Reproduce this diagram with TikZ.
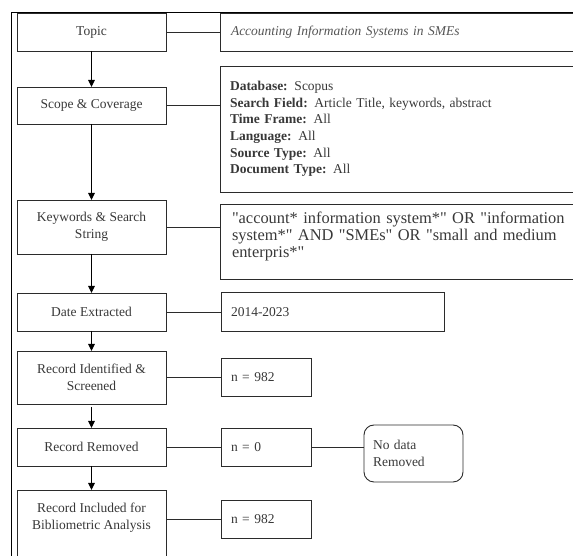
\documentclass[tikz,border=0pt]{standalone}
\usepackage{fontspec}
\setmainfont{Liberation Serif}[Ligatures=TeXOff]
\usetikzlibrary{arrows.meta,positioning}
\definecolor{linegray}{HTML}{2B2B2B}
\definecolor{textgray}{HTML}{383838}
\definecolor{topicgray}{HTML}{555555}

\begin{document}
\begin{tikzpicture}[
 x=1pt,y=1pt,
 node distance=36pt and 54pt,
 stage/.style={draw=linegray,line width=0.9pt,outer sep=0pt,inner sep=0pt,minimum width=149pt,align=center,text=textgray,font=\fontsize{13.5}{17}\selectfont},
 info/.style={draw=linegray,line width=0.9pt,outer sep=0pt,inner ysep=0pt,align=left,text=textgray,font=\fontsize{13.5}{16.6}\selectfont},
 count/.style={info,minimum height=38pt,text width=70pt,inner xsep=10pt},
 arrow/.style={-{Triangle[length=7pt,width=6.5pt]},line width=1pt},
 link/.style={line width=0.9pt,draw=linegray}
]
\clip (0,0) rectangle (573,556);
\draw[line width=1pt] (11,-20) |- (620,543);
\node[stage,minimum height=38pt] (topic) at (91.5,524) {Topic};
\node[stage,minimum height=37pt,below=36pt of topic] (scope) {Scope \& Coverage};
\node[stage,minimum height=54pt,below=76pt of scope] (keywords) {Keywords \& Search\\String};
\node[stage,minimum height=38pt,below=39pt of keywords] (date) {Date Extracted};
\node[stage,minimum height=53pt,below=20pt of date] (screened) {Record Identified \&\\Screened};
\node[stage,minimum height=38pt,below=24pt of screened] (removed) {Record Removed};
\node[stage,inner ysep=13pt,text depth=70pt,below=24pt of removed] (included) {Record Included for\\Bibliometric Analysis};
\node[info,right=54pt of topic,minimum height=38pt,text width=358pt,inner xsep=11pt,text=topicgray,font=\fontsize{13.5}{16.6}\selectfont\itshape] (topicnote) {Accounting Information Systems in SMEs};
\node[info,right=54pt of scope,yshift=-23.5pt,minimum height=126pt,text width=360pt,inner xsep=10pt] (scopenote) {\textbf{Database:} Scopus\\\textbf{Search Field:} Article Title, keywords, abstract\\\textbf{Time Frame:} All\\\textbf{Language:} All\\\textbf{Source Type:} All\\\textbf{Document Type:} All};
\node[info,right=54pt of keywords,yshift=-14.5pt,text width=356pt,inner xsep=12pt,inner ysep=8pt,text depth=47.5pt,font=\fontsize{16.4}{17}\selectfont] (keynote) {"account* information system*" OR "information\\system*" AND "SMEs" OR "small and medium\\enterpris*"};
\node[info,right=55pt of date,minimum height=39pt,text width=203pt,inner xsep=10pt] (datenote) {2014-2023};
\node[count,right=55pt of screened] (found) {n = 982};
\node[count,right=55pt of removed] (dropped) {n = 0};
\node[info,rounded corners=10pt,right=53pt of dropped,yshift=-6.5pt,minimum height=57pt,text width=81pt,inner xsep=9pt] (nodata) {No data\\Removed};
\node[count,below=34pt of dropped] (kept) {n = 982};
\draw[arrow] (topic) -- (scope);
\draw[arrow] (scope) -- (keywords);
\draw[arrow] (keywords) -- (date);
\draw[arrow] (date) -- (screened);
\draw[arrow,shorten <=3pt] (screened) -- (removed);
\draw[arrow] (removed) -- (included);
\draw[link] (topic) -- (topicnote);
\draw[link] (scope.east) -- (scope.east -| scopenote.west);
\draw[link] (keywords.east) -- (keywords.east -| keynote.west);
\draw[link] (date.east) -- (date.east -| datenote.west);
\draw[link] (found.west -| screened.east) -- (found.west);
\draw[link] (removed) -- (dropped);
\draw[link] (dropped.east) -- (dropped.east -| nodata.west);
\draw[link] (kept.west -| included.east) -- (kept.west);
\end{tikzpicture}
\end{document}
